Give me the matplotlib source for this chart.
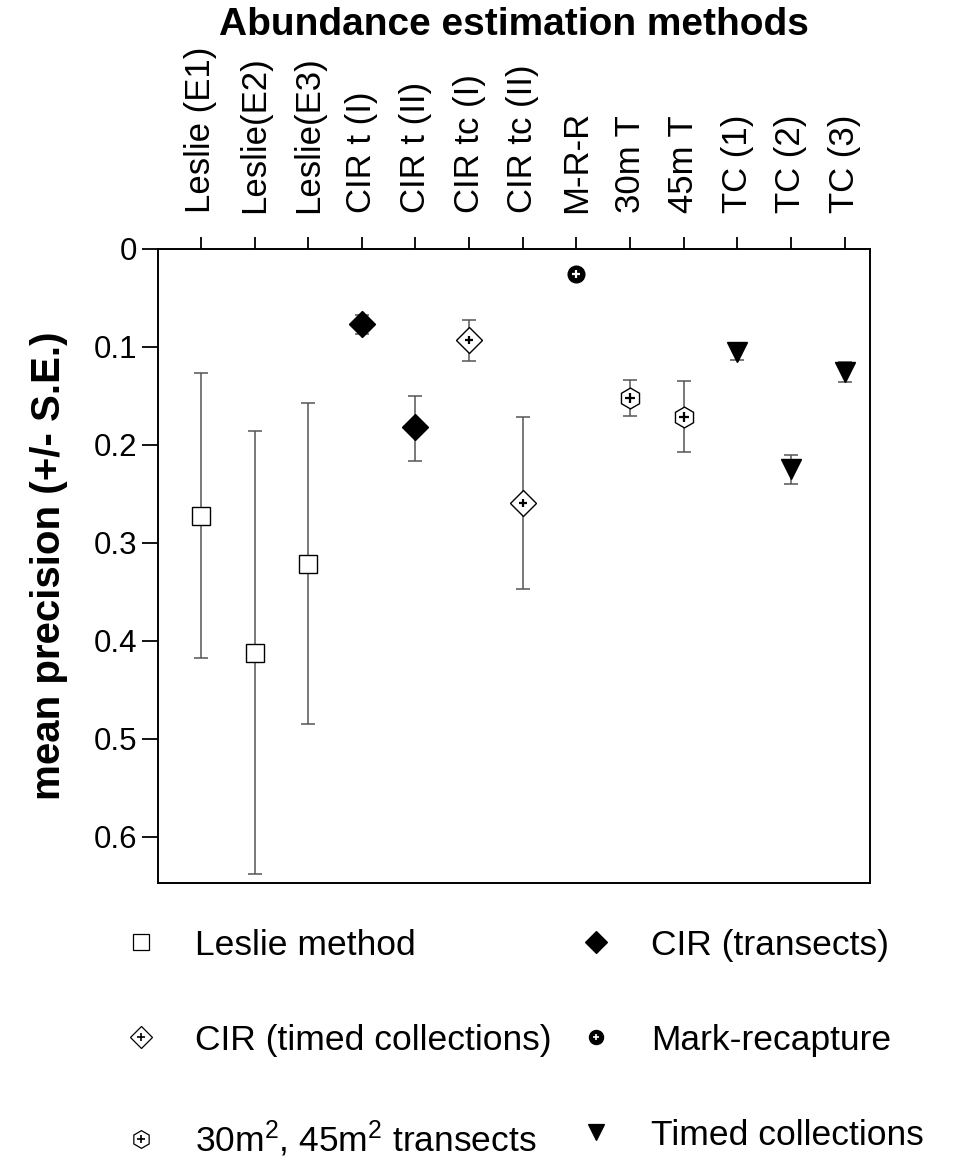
import matplotlib; matplotlib.use('Agg')
from matplotlib import pyplot as plt
from matplotlib.lines import Line2D
from matplotlib.legend_handler import HandlerTuple
import numpy as np

plt.rcParams['font.family'] = ['Liberation Sans', 'DejaVu Sans']
plt.rcParams['mathtext.default'] = 'regular'

methods = ['Leslie (E1)', 'Leslie(E2)', 'Leslie(E3)', 'CIR t (I)', 'CIR t (II)',
           'CIR tc (I)', 'CIR tc (II)', 'M-R-R', '30m T', '45m T',
           'TC (1)', 'TC (2)', 'TC (3)']
precision = [0.272, 0.412, 0.321, 0.077, 0.182, 0.093, 0.259, 0.026,
             0.152, 0.171, 0.105, 0.225, 0.126]
err_low = [0.145, 0.226, 0.164, 0.010, 0.032, 0.021, 0.088, 0.0,
           0.018, 0.036, 0.008, 0.015, 0.011]
err_high = [0.145, 0.226, 0.164, 0.010, 0.034, 0.021, 0.088, 0.0,
            0.018, 0.036, 0.008, 0.015, 0.010]
group = ['leslie', 'leslie', 'leslie', 'cirt', 'cirt', 'cirtc', 'cirtc', 'mrr',
         'trans', 'trans', 'tc', 'tc', 'tc']

group_names = {'leslie': 'Leslie method',
               'cirt': 'CIR (transects)',
               'cirtc': 'CIR (timed collections)',
               'mrr': 'Mark-recapture',
               'trans': '30m$^2$, 45m$^2$ transects',
               'tc': 'Timed collections'}

# marker styles: (marker, size, facecolor, inner plus colour or None)
styles = {'leslie': ('s', 13, 'white', None),
          'cirt': ('D', 13, 'black', None),
          'cirtc': ('D', 13, 'white', 'black'),
          'mrr': ('o', 12, 'black', 'white'),
          'trans': ('h', 15, 'white', 'black'),
          'tc': ('v', 14, 'black', None)}

x = np.arange(1, len(methods) + 1)

fig = plt.figure(figsize=(9.6, 11.58), dpi=100)
ax = fig.add_axes([0.1646, 0.2375, 0.7414, 0.5475])

for i in range(len(methods)):
    if err_low[i] > 0:
        ax.errorbar(x[i], precision[i], yerr=[[err_low[i]], [err_high[i]]], fmt='none',
                    ecolor='#555555', elinewidth=1.1, capsize=4.7, capthick=1.1, zorder=2)
    m, ms, fc, pc = styles[group[i]]
    ax.plot(x[i], precision[i], marker=m, ms=ms, mfc=fc, mec='black', mew=1.0,
            ls='none', zorder=3)
    if pc is not None:
        ax.plot(x[i], precision[i], marker='+', ms=ms * 0.45, mec=pc, mew=1.6,
                ls='none', zorder=4)

ax.set_xlim(0.2, 13.47)
ax.set_ylim(0.647, 0)
ax.set_yticks([0, 0.1, 0.2, 0.3, 0.4, 0.5, 0.6])
ax.set_yticklabels(['0', '0.1', '0.2', '0.3', '0.4', '0.5', '0.6'])
ax.xaxis.tick_top()
ax.set_xticks(x)
ax.set_xticklabels(methods, rotation=90, fontsize=25)
ax.tick_params(axis='x', direction='out', length=8.6, width=1.3, pad=17)
ax.tick_params(axis='y', direction='out', length=11.5, width=1.3, pad=3.6, labelsize=22.5)
for s in ax.spines.values():
    s.set_linewidth(1.4)

ax.set_ylabel('mean precision (+/- S.E.)', fontsize=29, fontweight='bold', labelpad=18)
fig.text(514 / 960., 1 - 35 / 1158., 'Abundance estimation methods', ha='center',
         va='baseline', fontsize=28, fontweight='bold')

# legend
order = ['leslie', 'cirtc', 'trans', 'cirt', 'mrr', 'tc']
handles = []
for g in order:
    m, ms, fc, pc = styles[g]
    base = Line2D([], [], marker=m, ms=ms * 0.85, mfc=fc, mec='black', mew=0.9, ls='none')
    if pc is not None:
        plus = Line2D([], [], marker='+', ms=ms * 0.4, mec=pc, mew=1.2, ls='none')
        handles.append((base, plus))
    else:
        handles.append(base)
labels = [group_names[g] for g in order]
fig.legend(handles, labels, loc='upper left', bbox_to_anchor=(0.128, 0.198), ncol=2,
           frameon=False, fontsize=25.5, handler_map={tuple: HandlerTuple(ndivide=1, pad=0)},
           borderpad=0, borderaxespad=0, labelspacing=1.75, columnspacing=0.75,
           handlelength=1.0, handletextpad=1.05)

fig.savefig('out.png', dpi=100)
